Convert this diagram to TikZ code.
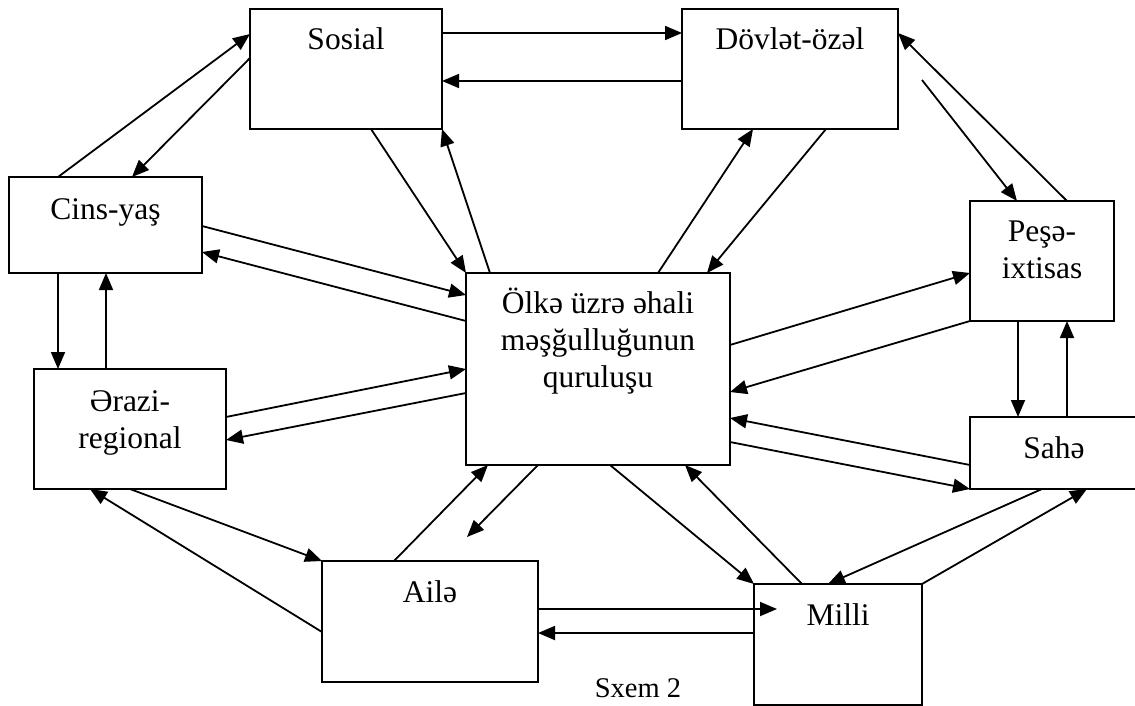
\documentclass[tikz,border=0pt]{standalone}
\usepackage{fontspec}
\setmainfont{Liberation Serif}
\usepackage{tikz}
\usetikzlibrary{arrows.meta}

\begin{document}
\begin{tikzpicture}[x=1pt, y=-1pt, >={Triangle[length=17pt,width=14pt]}, line width=1.8pt,
  bx/.style={draw, anchor=north west, inner sep=0pt, outer sep=0pt, align=center,
    font=\fontsize{31.5}{37}\selectfont}]
  \useasboundingbox (0,0) rectangle (1135,706);
  % boxes
  \node[bx, minimum width=192pt, text height=41pt, text depth=79pt] (sosial) at (250,9) {Sosial};
  \node[bx, minimum width=216pt, text height=41pt, text depth=79pt] (dovlet) at (682,9) {Dövlət-özəl};
  \node[bx, minimum width=193pt, text height=42pt, text depth=54pt] (cins) at (9,177) {Cins-yaş};
  \node[bx, minimum width=144pt, text height=77pt, text depth=43pt] (pese) at (970,201) {Peşə-\\ixtisas};
  \node[bx, minimum width=264pt, text height=114pt, text depth=78pt] (olke) at (466,273) {Ölkə üzrə əhali\\məşğulluğunun\\quruluşu};
  \node[bx, minimum width=192pt, text height=79pt, text depth=41pt] (erazi) at (34,369) {Ərazi-\\regional};
  \node[bx, minimum width=168pt, text height=41pt, text depth=31pt] (sahe) at (970,417) {Sahə};
  \node[bx, minimum width=216pt, text height=41pt, text depth=80pt] (aile) at (322,561) {Ailə};
  \node[bx, minimum width=168pt, text height=41pt, text depth=80pt] (milli) at (754,584) {Milli};
  \node[font=\fontsize{28.5}{34}\selectfont, inner sep=0pt] (sxem) at (638,688) {Sxem 2};
  \coordinate (free1) at (467,537);
  \coordinate (free2) at (922,80);

  % upper left
  \draw[->] ([xshift=49]cins.north west) -- ([yshift=-25]sosial.north west);
  \draw[->] ([yshift=-49]sosial.north west) -- ([xshift=123]cins.north west);
  \draw[->] ([xshift=121]sosial.south west) -- (olke.north west);
  \draw[->] ([xshift=24]olke.north west) -- (sosial.south east);
  \draw[->] ([yshift=-24]sosial.north east) -- ([yshift=-24]dovlet.north west);
  \draw[->] ([yshift=-72]dovlet.north west) -- ([yshift=-72]sosial.north east);
  \draw[->] ([xshift=192]olke.north west) -- ([xshift=71]dovlet.south west);
  \draw[->] ([xshift=144]dovlet.south west) -- ([xshift=241]olke.north west);
  \draw[->] ([yshift=-49]cins.north east) -- ([yshift=-22]olke.north west);
  \draw[->] ([yshift=-48]olke.north west) -- ([yshift=-75]cins.north east);
  \draw[->] ([xshift=49]cins.south west) -- ([xshift=24]erazi.north west);
  \draw[->] ([xshift=72]erazi.north west) -- ([xshift=97]cins.south west);
  % lower left
  \draw[->] ([yshift=-48]erazi.north east) -- ([yshift=-96]olke.north west);
  \draw[->] ([yshift=-120]olke.north west) -- ([yshift=-71]erazi.north east);
  \draw[->] ([xshift=96]erazi.south west) -- (aile.north west);
  \draw[->] ([yshift=-71]aile.north west) -- ([xshift=56]erazi.south west);
  \draw[->] ([xshift=72]aile.north west) -- ([xshift=22]olke.south west);
  \draw[->] ([xshift=72]olke.south west) -- (free1);
  \draw[->] ([xshift=144]olke.south west) -- (milli.north west);
  \draw[->] ([xshift=48]milli.north west) -- ([xshift=219]olke.south west);
  \draw[->] ([yshift=-48]aile.north east) -- ([xshift=23,yshift=-25]milli.north west);
  \draw[->] ([yshift=-49]milli.north west) -- ([yshift=-72]aile.north east);
  % right side
  \draw[->] ([xshift=72]sahe.south west) -- ([xshift=74]milli.north west);
  \draw[->] (milli.north east) -- ([xshift=117]sahe.south west);
  \draw[->] ([yshift=-72]olke.north east) -- ([yshift=-72]pese.north west);
  \draw[->] (pese.south west) -- ([yshift=-119]olke.north east);
  \draw[->] ([yshift=-48]sahe.north west) -- ([yshift=-145]olke.north east);
  \draw[->] ([yshift=-169]olke.north east) -- (sahe.south west);
  \draw[->] ([xshift=48]pese.south west) -- ([xshift=48]sahe.north west);
  \draw[->] ([xshift=97]sahe.north west) -- ([xshift=97]pese.south west);
  \draw[->] (free2) -- ([xshift=47]pese.north west);
  \draw[->] ([xshift=97]pese.north west) -- ([yshift=-24]dovlet.north east);
\end{tikzpicture}
\end{document}
